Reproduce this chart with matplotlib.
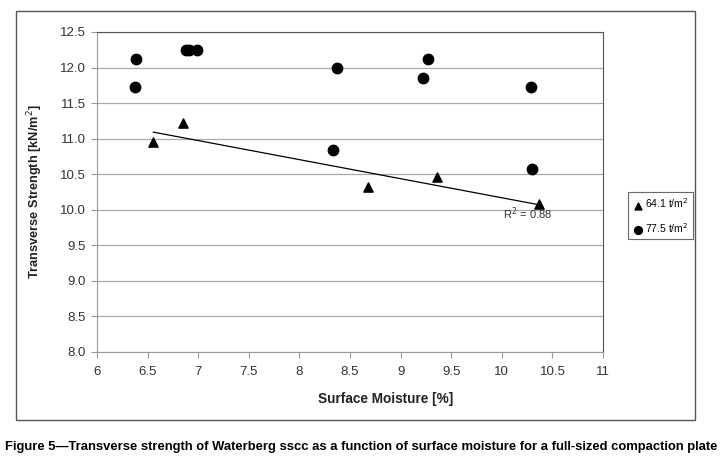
import matplotlib
matplotlib.use("Agg")
import matplotlib.pyplot as plt
from matplotlib.patches import Rectangle
import numpy as np

# 64.1 t/m2 series (triangles)
x_641 = [6.556, 6.85, 8.68, 9.356, 10.37]
y_641 = [10.96, 11.22, 10.32, 10.46, 10.08]

# 77.5 t/m2 series (circles)
x_775 = [6.375, 6.39, 6.88, 6.91, 6.985, 8.335, 8.37, 9.22, 9.27, 10.285, 10.30]
y_775 = [11.73, 12.12, 12.24, 12.24, 12.24, 10.84, 11.99, 11.86, 12.12, 11.73, 10.58]

xticks = [6, 6.5, 7, 7.5, 8, 8.5, 9, 9.5, 10, 10.5, 11]
xtick_labels = ["6", "6.5", "7", "7.5", "8", "8.5", "9", "9.5", "10", "10.5", "11"]
yticks = np.arange(8.0, 12.51, 0.5)

sans = ["Liberation Sans", "DejaVu Sans"]

fig = plt.figure(figsize=(7.23, 4.57), dpi=100)

# outer chart frame
fig.patches.append(Rectangle((16 / 723, 1 - 420 / 457), (695 - 16) / 723, (420 - 11) / 457,
                             transform=fig.transFigure, fill=False, edgecolor="#555555",
                             linewidth=1.0))

ax = fig.add_axes([97 / 723, 1 - 352 / 457, (603 - 97) / 723, (352 - 32) / 457])
ax.set_xlim(6, 11)
ax.set_ylim(8.0, 12.5)

ax.set_yticks(yticks)
ax.set_yticklabels(["%.1f" % v for v in yticks], family=sans, fontsize=9.5, color="#333333")
ax.set_xticks(xticks)
ax.set_xticklabels(xtick_labels, family=sans, fontsize=9.5, color="#333333")
ax.tick_params(axis="both", direction="out", length=4, width=0.8, color="#999999")
ax.tick_params(axis="x", pad=6)
ax.tick_params(axis="y", pad=4)

ax.grid(axis="y", color="#aaaaaa", linewidth=0.9)
ax.set_axisbelow(True)
for side in ["left", "bottom"]:
    ax.spines[side].set_color("#999999")
for side in ["top", "right"]:
    ax.spines[side].set_color("#555555")

ax.scatter(x_641, y_641, marker="^", s=44, color="black", zorder=3, label="64.1 t/m$^2$")
ax.scatter(x_775, y_775, marker="o", s=56, color="black", zorder=3, label="77.5 t/m$^2$")

# linear trend for the 64.1 t/m2 series
k, b = np.polyfit(x_641, y_641, 1)
xs = np.array([min(x_641), max(x_641)])
ax.plot(xs, k * xs + b, color="black", linewidth=0.9, zorder=2)
ax.text(10.26, 9.94, "R$^2$ = 0.88", fontsize=8, family=sans, color="#333333",
        ha="center", va="center")

ax.set_xlabel("Surface Moisture [%]", family=sans, fontweight="bold", fontsize=9.8,
              color="#222222")
ax.xaxis.set_label_coords(0.571, -0.125)
ax.set_ylabel("Transverse Strength [kN/m$^2$]", family=sans, fontweight="bold",
              fontsize=9.2, color="#222222")
ax.yaxis.set_label_coords(-0.103, 0.5)

leg = fig.legend(loc="upper left", bbox_to_anchor=(628 / 723, 1 - 192 / 457),
                 frameon=True, fancybox=False, edgecolor="#444444",
                 handletextpad=0.15, handlelength=1.0, labelspacing=1.0,
                 borderpad=0.45, borderaxespad=0.0, markerscale=0.75,
                 prop={"family": sans, "size": 7.5})
leg.get_frame().set_linewidth(0.8)

fig.text(0.5, 1 - 447 / 457, "Figure 5\u2014Transverse strength of Waterberg sscc as a function "
         "of surface moisture for a full-sized compaction plate",
         family=sans, fontweight="bold", fontsize=9.4, ha="center", va="center",
         color="black")

fig.savefig("out.png", dpi=100)
